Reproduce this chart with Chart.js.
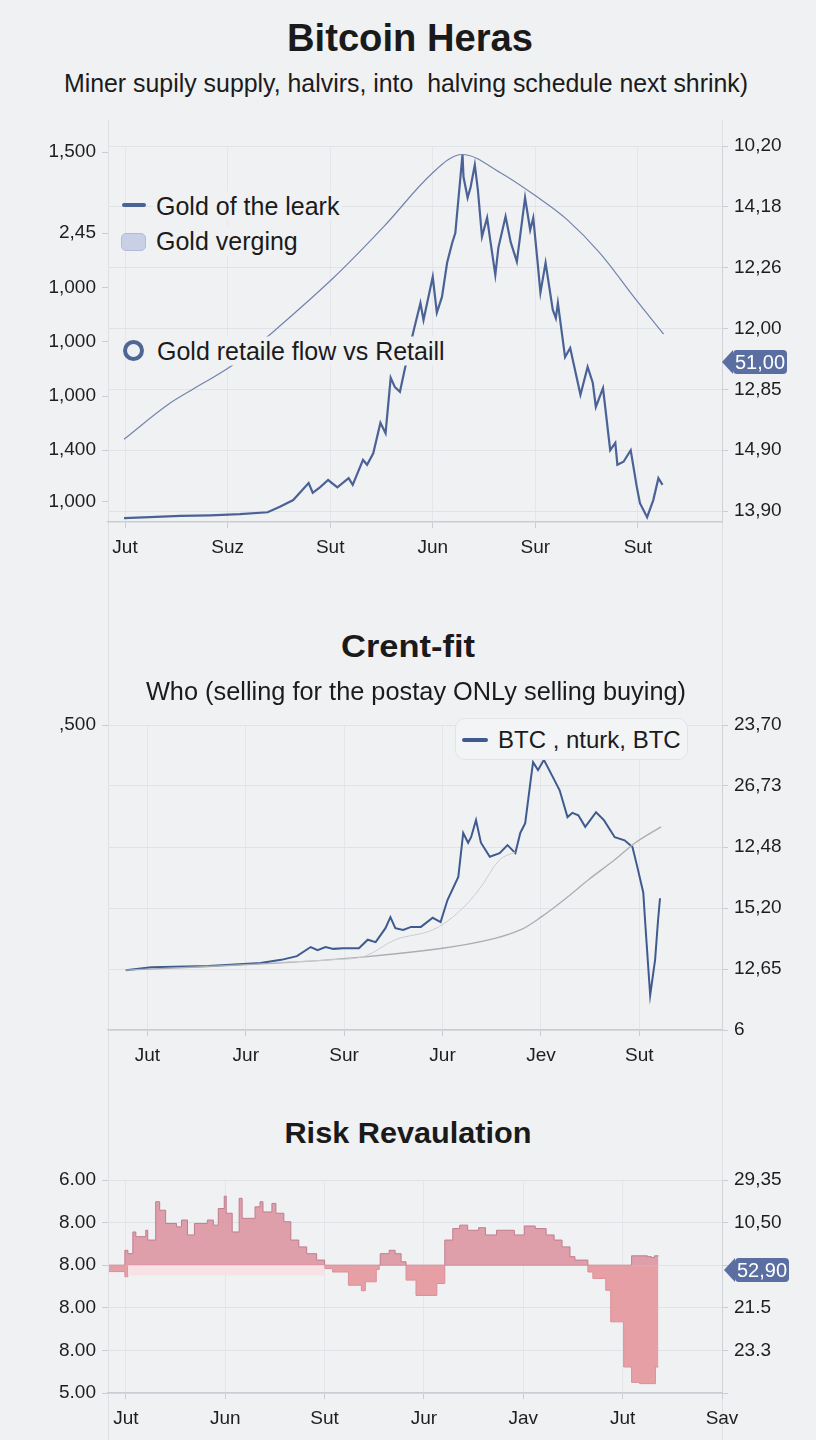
<!DOCTYPE html>
<html>
<head>
<meta charset="utf-8">
<script src="https://cdn.jsdelivr.net/npm/chart.js@4.4.1/dist/chart.umd.min.js"></script>
<style>
  body { margin: 0; background: #f0f1f3; }
  #page { position: relative; width: 816px; height: 1440px; overflow: hidden;
          font-family: "Liberation Sans", Arial, sans-serif; color: #1b1b1b; }
  canvas { position: absolute; left: 0; }
  .vl { position: absolute; top: 120px; bottom: 0; width: 1px; background: #dde0e4; }
  .t { position: absolute; white-space: nowrap; line-height: 1; transform: translate(-50%, -50%); }
  .title { font-weight: bold; color: #1a1a1a; }
  .lg { position: absolute; white-space: nowrap; line-height: 1; font-size: 25px;
        transform: translateY(-50%); background: #f0f1f3; padding: 2px 3px; }
  .mk { position: absolute; }
  .badge { position: absolute; height: 24px; background: #5a6ea2; color: #fff; font-size: 20px;
           line-height: 24px; text-align: center; border-radius: 4px; }
  .badge:before { content: ""; position: absolute; left: -11px; top: 0; border-style: solid;
                  border-width: 12px 11px 12px 0; border-color: transparent #5a6ea2 transparent transparent; }
  #btcBox { position: absolute; left: 455px; top: 718px; width: 233px; height: 42px; box-sizing: border-box;
            border: 1px solid #e1e3e7; border-radius: 10px; background: #f3f4f6; }
</style>
</head>
<body>
<div id="page">
  <div class="vl" style="left:108px"></div>
  <div class="vl" style="left:722px"></div>

  <canvas id="c1" width="816" height="480" style="top:120px"></canvas>
  <canvas id="c2" width="816" height="400" style="top:700px"></canvas>
  <canvas id="c3" width="816" height="280" style="top:1160px"></canvas>

  <div class="t title" id="t1" style="left:410px;top:38px;font-size:38px">Bitcoin Heras</div>
  <div class="t" id="s1" style="left:406px;top:83px;font-size:26px">Miner supily supply, halvirs, into&nbsp; halving schedule next shrink)</div>

  <div class="mk" style="left:122px;top:203px;width:24px;height:4px;border-radius:2px;background:#4a6296"></div>
  <div class="lg" style="left:153px;top:206px">Gold of the leark</div>
  <div class="mk" style="left:121px;top:233px;width:23px;height:16px;border-radius:5px;background:#c9cfe4;border:1px solid #b3bbd6"></div>
  <div class="lg" style="left:153px;top:241px">Gold verging</div>
  <div class="mk" style="left:123px;top:340px;width:13px;height:13px;border-radius:50%;border:4px solid #4f6594;background:#eef0f4"></div>
  <div class="lg" style="left:154px;top:351px">Gold retaile flow vs Retaill</div>

  <div class="badge" style="left:733px;top:350px;width:54px">51,00</div>

  <div class="t title" id="t2" style="left:408px;top:646px;font-size:32px">Crent-fit</div>
  <div class="t" id="s2" style="left:416px;top:691px;font-size:26px">Who (selling for the postay ONLy selling buying)</div>

  <div id="btcBox">
    <div class="mk" style="left:6px;top:19px;width:26px;height:4px;border-radius:2px;background:#3f5a8f"></div>
    <div class="lg" style="left:39px;top:21px;font-size:24px;background:transparent">BTC , nturk, BTC</div>
  </div>

  <div class="t title" id="t3" style="left:408px;top:1133px;font-size:30px">Risk Revaulation</div>

  <div class="badge" style="left:735px;top:1258px;width:54px">52,90</div>
</div>

<script>
// ---- panel 1: Bitcoin Heras ----
const p1XTicks = [0, 10, 20, 30, 40, 50];
const p1XLabels = ["Jut", "Suz", "Sut", "Jun", "Sur", "Sut"];
const p1LeftTicks = [1.6, 10, 18.9, 27.8, 36.7, 45.7, 59];
const p1LeftLabels = ["1,000", "1,400", "1,000", "1,000", "1,000", "2,45", "1,500"];
const p1RightTicks = [0, 10, 20, 30, 40, 50, 60];
const p1RightLabels = ["13,90", "14,90", "12,85", "12,00", "12,26", "14,18", "10,20"];

const p1Days = [-0.1, 2.4, 5.4, 8.3, 11.2, 13.9, 15.1, 16.4, 17.9, 18.3, 19.0, 19.8, 20.7, 21.8, 22.2,
  23.2, 23.6, 24.2, 24.9, 25.4, 25.9, 26.3, 26.8, 27.3, 28.1, 28.8, 29.1, 30.0, 30.4, 30.9, 31.4, 31.9,
  32.2, 32.7, 32.9, 33.0, 33.4, 33.7, 34.1, 34.4, 34.8, 35.3, 35.6, 36.1, 36.4, 37.1, 37.6, 38.2, 39.0,
  39.5, 39.8, 40.2, 40.5, 41.0, 41.7, 42.0, 42.2, 42.9, 43.4, 44.4, 45.1, 45.6, 45.9, 46.6, 47.3, 47.8,
  48.0, 48.6, 49.3, 49.9, 50.2, 50.9, 51.5, 52.0, 52.4];
const p1Price = [-1.15, -1.0, -0.8, -0.7, -0.5, -0.2, 0.7, 1.8, 4.6, 3.0, 3.9, 5.1, 3.9, 5.4, 4.3,
  8.4, 7.6, 9.5, 14.5, 12.8, 21.9, 20.4, 19.6, 23.5, 29.4, 34.2, 31.4, 38.5, 32.6, 35.2, 40.8, 44.1,
  45.7, 54.9, 58.6, 54.9, 51.5, 53.3, 56.9, 52.8, 45.1, 48.2, 44.6, 38.8, 43.3, 48.4, 44.2, 41.0, 51.5,
  46.2, 48.2, 41.3, 35.9, 40.8, 33.1, 31.7, 34.2, 25.3, 26.8, 19.1, 23.7, 21.1, 17.1, 20.2, 10.0, 11.2,
  7.6, 8.1, 10.0, 3.9, 1.3, -1.0, 1.8, 5.4, 4.3];
const p1ArcDays = [-0.1, 4.1, 7.3, 10.5, 14.4, 20.3, 25.2, 30.0, 32.9, 36.6, 40.2, 43.1, 46.3, 49.6, 52.5];
const p1Arc = [11.8, 17.4, 20.7, 24.0, 29.4, 38.3, 46.7, 55.6, 58.6, 55.6, 51.6, 47.9, 42.4, 35.2, 29.1];

// ---- panel 2: Crent-fit ----
const p2XTicks = [0, 10, 20, 30, 40, 50];
const p2XLabels = ["Jut", "Jur", "Sur", "Jur", "Jev", "Sut"];
const p2LeftTicks = [50];
const p2LeftLabels = [",500"];
const p2RightTicks = [0, 10, 20, 30, 40, 50];
const p2RightLabels = ["6", "12,65", "15,20", "12,48", "26,73", "23,70"];

const p2Days = [-2.2, 0.4, 6.2, 11.5, 13.6, 15.2, 16.6, 17.3, 18.1, 18.9, 19.9, 21.5, 22.4, 23.2, 24.2,
  24.7, 25.2, 26.0, 26.8, 27.8, 29.0, 29.8, 30.5, 31.6, 32.1, 32.6, 32.9, 33.4, 33.9, 34.8, 35.8, 36.6,
  37.4, 37.9, 38.4, 39.0, 39.2, 39.7, 40.3, 41.2, 41.9, 42.7, 43.2, 43.8, 44.5, 45.6, 46.4, 47.5, 48.5,
  49.3, 49.8, 50.4, 50.6, 51.1, 51.6, 51.9, 52.1];
const p2Btc = [9.8, 10.3, 10.5, 11.0, 11.5, 12.1, 13.6, 13.1, 13.6, 13.3, 13.4, 13.4, 14.8, 14.4, 16.7,
  18.5, 16.7, 16.4, 16.9, 16.9, 18.4, 17.7, 21.3, 25.1, 32.3, 30.7, 31.6, 34.4, 30.7, 28.4, 29.0, 30.3,
  29.0, 32.3, 33.9, 41.5, 43.9, 42.6, 44.3, 41.5, 39.3, 34.9, 35.6, 35.2, 33.3, 35.7, 34.4, 31.6, 31.1,
  30.0, 26.7, 22.5, 17.5, 5.7, 11.5, 18.0, 21.6];
const p2FastDays = [13.6, 18.6, 22.1, 25.2, 29.0, 31.6, 33.7, 35.8, 37.4];
const p2Fast = [11.1, 11.5, 12.1, 14.8, 16.4, 19.3, 23.0, 27.9, 29.2];
const p2SlowDays = [-2.2, 13.6, 22.1, 30.0, 34.8, 37.9, 40.0, 42.7, 44.8, 47.5, 49.6, 52.2];
const p2Slow = [9.8, 11.0, 12.0, 13.4, 14.8, 16.4, 18.5, 21.8, 24.6, 27.9, 30.7, 33.3];

// ---- panel 3: Risk Revaulation ----
const p3XTicks = [0, 10, 20, 30, 40, 50, 60];
const p3XLabels = ["Jut", "Jun", "Sut", "Jur", "Jav", "Jut", "Sav"];
const p3YTicks = [-3, -2, -1, 0, 1, 2];
const p3LeftLabels = ["5.00", "8.00", "8.00", "8.00", "8.00", "6.00"];
const p3RightLabels = ["", "23.3", "21.5", "", "10,50", "29,35"];

const p3PosDays = [-1.7, -0.1, 0.2, 0.7, 1.0, 2.0, 2.2, 3.0, 3.4, 4.0, 5.1, 5.6, 6.2, 6.9, 8.2, 8.8, 9.3,
  9.9, 10.1, 10.7, 11.4, 11.7, 13.0, 13.5, 13.8, 14.7, 15.1, 15.9, 16.6, 17.4, 18.2, 19.2, 20.0, 25.6,
  26.5, 27.1, 27.7, 28.2, 32.1, 32.9, 33.6, 34.4, 35.5, 36.2, 37.3, 39.1, 40.1, 41.2, 42.3, 43.1, 43.9,
  44.7, 45.2, 46.5, 50.9, 52.5, 52.9, 53.2, 53.6];
const p3Pos = [0, 0.35, 0.27, 0.78, 0.67, 0.82, 0.59, 1.49, 1.29, 0.98, 0.9, 1.06, 0.71, 0.98, 1.06, 0.94,
  1.33, 1.62, 1.22, 0.78, 1.57, 1.1, 1.37, 1.49, 1.25, 1.45, 1.22, 1.02, 0.59, 0.43, 0.27, 0.12, 0, 0.27,
  0.35, 0.27, 0.08, 0, 0.59, 0.86, 0.94, 0.82, 0.88, 0.71, 0.82, 0.71, 0.92, 0.86, 0.71, 0.59, 0.43, 0.2,
  0.12, 0, 0.22, 0.2, 0.18, 0.22, 0.22];
const p3NegDays = [-1.7, -0.1, 0.2, 20.0, 20.8, 22.4, 23.7, 24.1, 25.2, 25.5, 28.2, 29.2, 31.3, 32.1,
  46.5, 47.0, 48.3, 48.8, 50.1, 50.9, 51.7, 53.3, 53.6];
const p3Neg = [-0.15, -0.27, 0, -0.08, -0.16, -0.47, -0.6, -0.39, -0.1, 0, -0.35, -0.71, -0.43, 0,
  -0.16, -0.31, -0.59, -1.33, -2.39, -2.75, -2.78, -2.39, -2.39];
const p3HazeDays = [0.2, 20.0];
const p3Haze = [-0.24, -0.24];

const tickFont = { family: "Liberation Sans", size: 19 };
const tickColor = "#1e1e1e";
const gridColor = "#dfe2e6";

function pts(xs, ys) {
  return xs.map((x, i) => ({ x: x, y: ys[i] }));
}

function pinTicks(values) {
  return scale => { scale.ticks = values.map(v => ({ value: v })); };
}

function xAxis(min, max, ticks, labels, height) {
  return {
    type: "linear", min: min, max: max,
    afterBuildTicks: pinTicks(ticks),
    afterFit: s => { s.height = height; },
    grid: { color: "#e4e6ea", tickColor: "#c9cdd3", tickLength: 6 },
    border: { color: "#c9cdd3", width: 1.5 },
    ticks: { font: tickFont, color: tickColor, padding: 8, maxRotation: 0, autoSkip: false,
             callback: (v, i) => labels[i] }
  };
}

function sideAxis(position, min, max, ticks, labels, showGrid) {
  return {
    type: "linear", position: position, min: min, max: max,
    afterBuildTicks: pinTicks(ticks),
    afterFit: s => { s.width = position === "left" ? 108 : 94; },
    grid: { drawOnChartArea: showGrid, color: gridColor, tickColor: "#c9cdd3", tickLength: 6 },
    border: { display: position === "right", color: "#cfd3d8" },
    ticks: { font: tickFont, color: tickColor, padding: 6, autoSkip: false,
             callback: (v, i) => labels[i] }
  };
}

function baseOptions(top, scales) {
  return {
    responsive: false,
    animation: false,
    devicePixelRatio: 1,
    layout: { padding: { top: top, left: 0, right: 0, bottom: 0 } },
    plugins: { legend: { display: false }, tooltip: { enabled: false } },
    elements: { point: { radius: 0 } },
    scales: scales
  };
}

new Chart(document.getElementById("c1"), {
  type: "line",
  data: {
    datasets: [
      { data: pts(p1ArcDays, p1Arc), yAxisID: "yr", borderColor: "#7284ad", borderWidth: 1.2, tension: 0.35 },
      { data: pts(p1Days, p1Price), yAxisID: "yr", borderColor: "#4a6296", borderWidth: 2.2, tension: 0 }
    ]
  },
  options: baseOptions(26, {
    x: xAxis(-1.66, 58.2, p1XTicks, p1XLabels, 78),
    yl: sideAxis("left", -1.8, 60, p1LeftTicks, p1LeftLabels, false),
    yr: sideAxis("right", -1.8, 60, p1RightTicks, p1RightLabels, true)
  })
});

new Chart(document.getElementById("c2"), {
  type: "line",
  data: {
    datasets: [
      { data: pts(p2FastDays, p2Fast), yAxisID: "yr", borderColor: "#c9cdd3", borderWidth: 1, tension: 0.35 },
      { data: pts(p2SlowDays, p2Slow), yAxisID: "yr", borderColor: "#a9aeb2", borderWidth: 1.3, tension: 0.35 },
      { data: pts(p2Days, p2Btc), yAxisID: "yr", borderColor: "#3f5a8f", borderWidth: 2, tension: 0 }
    ]
  },
  options: baseOptions(25, {
    x: xAxis(-4.0, 58.4, p2XTicks, p2XLabels, 70),
    yl: sideAxis("left", 0, 50, p2LeftTicks, p2LeftLabels, false),
    yr: sideAxis("right", 0, 50, p2RightTicks, p2RightLabels, true)
  })
});

new Chart(document.getElementById("c3"), {
  type: "line",
  data: {
    datasets: [
      { data: pts(p3HazeDays, p3Haze), yAxisID: "yr", stepped: true, fill: "origin",
        backgroundColor: "rgba(248,224,228,0.95)", borderWidth: 0 },
      { data: pts(p3NegDays, p3Neg), yAxisID: "yr", stepped: true, fill: "origin",
        backgroundColor: "rgba(229,152,158,0.92)", borderColor: "#dc8f97", borderWidth: 1 },
      { data: pts(p3PosDays, p3Pos), yAxisID: "yr", stepped: true, fill: "origin",
        backgroundColor: "rgba(220,150,163,0.9)", borderColor: "#c07d8f", borderWidth: 1 }
    ]
  },
  options: baseOptions(20, {
    x: xAxis(-1.8, 60, p3XTicks, p3XLabels, 47),
    yl: sideAxis("left", -3, 2, p3YTicks, p3LeftLabels, false),
    yr: sideAxis("right", -3, 2, p3YTicks, p3RightLabels, true)
  })
});

// squeeze titles to the widths seen in the picture
function fitText(id, width) {
  const el = document.getElementById(id);
  const r = width / el.getBoundingClientRect().width;
  el.style.transform = "translate(-50%, -50%) scaleX(" + r.toFixed(3) + ")";
}
fitText("t1", 246);
fitText("s1", 684);
fitText("t2", 134);
fitText("s2", 540);
fitText("t3", 247);
</script>
</body>
</html>
